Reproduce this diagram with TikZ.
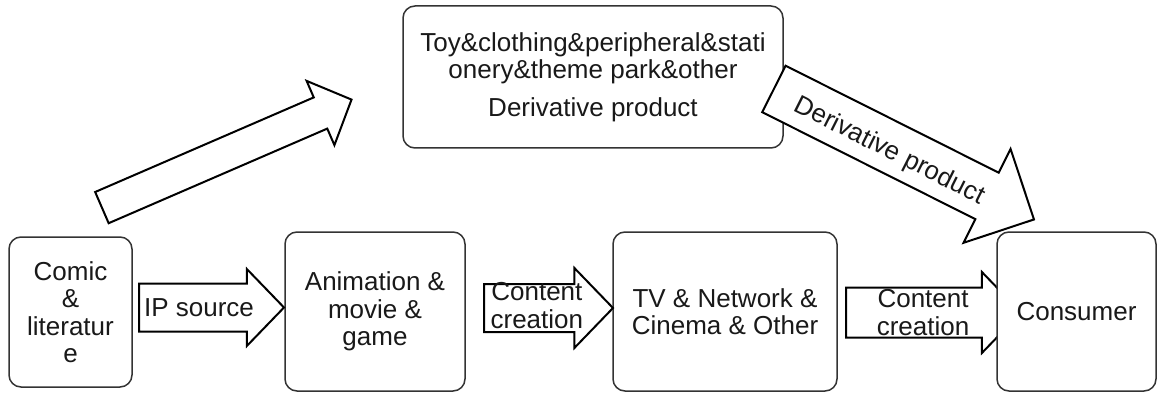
\documentclass[tikz,border=0pt]{standalone}
\usepackage{fontspec}
\setmainfont{Liberation Sans}
\usetikzlibrary{shapes.arrows, calc}

\begin{document}
\begin{tikzpicture}[x=1pt, y=-1pt,
    every node/.style={font=\fontsize{26}{27.5}\selectfont, align=center, text=black!90},
    box/.style={draw=black!80, line width=1.5pt, rounded corners=12pt, fill=white, inner sep=0pt},
    blockarrow/.style={single arrow, draw=black, line width=2pt, fill=white, anchor=tail,
      inner xsep=0pt, minimum width=0pt, single arrow tip angle=92}]
  \useasboundingbox (0,0) rectangle (1157,393);
  % boxes
  \node[box, minimum width=380pt, minimum height=142pt] (prod) at (593,77)
    {Toy\&clothing\&peripheral\&stati\\onery\&theme park\&other\\[10pt]Derivative product};
  \node[box, minimum width=123pt, minimum height=150pt] (comic) at (70.5,312) {Comic\\\&\\literatur\\e};
  \node[box, minimum width=180pt, minimum height=159pt] (anim) at (375,311.5) {Animation \&\\movie \&\\game};
  \node[box, minimum width=224pt, minimum height=159pt] (tv) at (725,311.5) {TV \& Network \&\\Cinema \& Other};
  % block arrows, placed by their tails
  \node[blockarrow, minimum height=145pt, inner ysep=23pt, single arrow head extend=14.5pt] (iparrow) at (138,307.5) {};
  \node (iptext) at ($(iparrow.tail)!0.414!(iparrow.tip)$) {IP source};
  \node[blockarrow, minimum height=129pt, inner ysep=23pt, single arrow head extend=16pt] (ccarrowa) at (483,308) {};
  \node (cctexta) at ($(ccarrowa.tail)!0.41!(ccarrowa.tip) + (0,-2.5)$) {Content\\creation};
  \node[blockarrow, minimum height=175pt, inner ysep=24pt, single arrow head extend=15.5pt] (ccarrowb) at (845,312.5) {};
  \node (cctextb) at ($(ccarrowb.tail)!0.44!(ccarrowb.tip)$) {Content\\creation};
  \node[blockarrow, minimum height=272pt, inner ysep=16pt, single arrow head extend=18pt, rotate=23.4] (derarrowa) at (101,208) {};
  \node[blockarrow, minimum height=291pt, inner ysep=25pt, single arrow head extend=26.5pt,
    single arrow tip angle=90, rotate=-26.65] (derarrowb) at (773,88.5) {};
  \node[rotate=-26.65] (dertext) at ($(derarrowb.tail)!0.45!(derarrowb.tip) + (-1.9,3.7)$) {Derivative product};
  \node[box, minimum width=159pt, minimum height=159pt] (cons) at (1076.5,311.5) {Consumer};
\end{tikzpicture}
\end{document}
